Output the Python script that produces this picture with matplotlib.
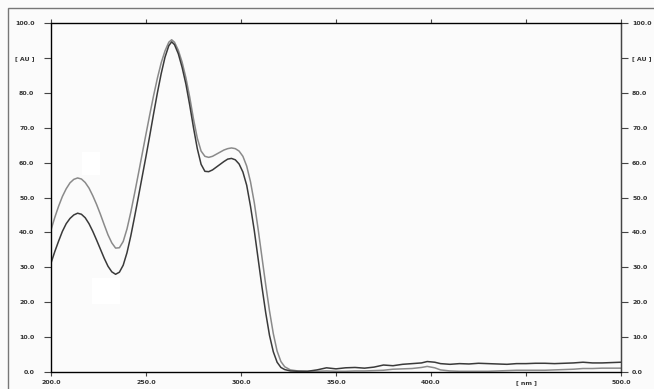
import matplotlib.pyplot as plt
from matplotlib.patches import Rectangle

# Wellenlaengen [nm] und Absorption [AU] der beiden Spektren
wavelength = [200, 202, 204, 206, 208, 210, 212, 214, 216, 218, 220, 222, 224, 226, 228,
              230, 232, 234, 236, 238, 240, 242, 244, 246, 248, 250, 252, 254, 256, 258,
              260, 262, 263.5, 265, 267, 269, 271, 273, 275, 277, 279, 281, 283, 285, 287,
              289, 291, 293, 295, 297, 299, 301, 303, 305, 307, 309, 311, 313, 315, 317,
              319, 321, 323, 326, 330, 335, 340, 345, 350, 355, 360, 365, 370, 375, 380,
              385, 390, 395, 398, 402, 405, 410, 415, 420, 425, 430, 435, 440, 445, 450,
              455, 460, 465, 470, 475, 480, 485, 490, 495, 500]

dark_au = [31.2, 34.5, 37.5, 40.3, 42.5, 44.0, 45.0, 45.5, 45.2, 44.2, 42.5, 40.3, 37.8, 35.2, 32.6,
           30.3, 28.7, 28.0, 28.6, 30.6, 34.2, 39.0, 44.5, 50.2, 56.0, 61.8, 67.8, 74.0, 80.0, 85.5,
           90.2, 93.5, 94.6, 93.8, 91.2, 87.3, 82.5, 76.5, 70.0, 64.0, 59.5, 57.5, 57.4, 57.9, 58.7,
           59.5, 60.3, 61.0, 61.2, 60.8, 59.6, 57.3, 53.5, 47.5, 40.5, 32.5, 24.5, 17.0, 10.5, 5.8,
           2.8, 1.3, 0.7, 0.3, 0.2, 0.2, 0.6, 1.2, 0.9, 1.2, 1.3, 1.1, 1.4, 2.0, 1.8,
           2.2, 2.4, 2.6, 3.0, 2.8, 2.4, 2.2, 2.4, 2.3, 2.5, 2.4, 2.3, 2.2, 2.4, 2.4,
           2.5, 2.5, 2.4, 2.5, 2.6, 2.8, 2.6, 2.6, 2.7, 2.8]

light_au = [40.7, 44.3, 47.5, 50.3, 52.5, 54.2, 55.2, 55.6, 55.3, 54.3, 52.7, 50.5, 48.0, 45.2, 42.2,
            39.3, 37.0, 35.5, 35.6, 37.4, 41.0, 45.8, 51.2, 56.8, 62.5, 68.2, 73.8, 79.2, 84.2, 88.6,
            92.0, 94.5, 95.2, 94.5, 92.2, 88.8, 84.3, 78.8, 72.5, 67.0, 63.3, 61.8, 61.5, 61.8, 62.4,
            63.0, 63.6, 64.0, 64.2, 64.0, 63.3, 61.8, 59.0, 54.5, 48.5, 41.0, 33.0, 25.0, 17.5, 11.0,
            6.0, 3.0, 1.5, 0.6, 0.3, 0.2, 0.2, 0.3, 0.2, 0.2, 0.3, 0.3, 0.4, 0.5, 0.8,
            0.9, 1.0, 1.3, 1.6, 1.2, 0.6, 0.3, 0.2, 0.2, 0.2, 0.2, 0.3, 0.4, 0.5, 0.5,
            0.5, 0.5, 0.6, 0.7, 0.8, 1.0, 1.0, 1.1, 1.1, 1.1]

x_ticks = [200, 250, 300, 350, 400, 450, 500]
x_labels = ['200.0', '250.0', '300.0', '350.0', '400.0', '[ nm ]', '500.0']
y_ticks = [0, 10, 20, 30, 40, 50, 60, 70, 80, 90, 100]
y_labels = ['0.0', '10.0', '20.0', '30.0', '40.0', '50.0', '60.0', '70.0', '80.0', '[ AU ]', '100.0']

# weisse Flecken im Original (x0, y0, Breite, Hoehe in Datenkoordinaten)
white_boxes = [(216.5, 56.5, 9.5, 6.5), (221.5, 19.5, 15, 7.5)]

fig = plt.figure(figsize=(6.54, 3.89), dpi=100)
fig.patch.set_facecolor('#fbfbfb')

# Aeusserer Rahmen
fig.add_artist(Rectangle((8 / 654, -0.1), 1.2, 1 - 8 / 389 + 0.1, transform=fig.transFigure,
                         fill=False, edgecolor='#777777', linewidth=1.0))

ax = fig.add_axes([51 / 654, 1 - 372 / 389, 570 / 654, 349 / 389])
ax.set_facecolor('#fbfbfb')

for x0, y0, w, h in white_boxes:
    ax.add_patch(Rectangle((x0, y0), w, h, facecolor='white', edgecolor='none', zorder=1))

ax.plot(wavelength, light_au, color='#8a8a8a', linewidth=1.1, zorder=2)
ax.plot(wavelength, dark_au, color='#3a3a3a', linewidth=1.1, zorder=3)

ax.set_xlim(200, 500)
ax.set_ylim(0, 100)

for side in ['left', 'right', 'top', 'bottom']:
    ax.spines[side].set_color('#444444')
    ax.spines[side].set_linewidth(1.0)

ax.set_xticks(x_ticks)
ax.set_xticklabels(x_labels)
ax.set_yticks(y_ticks)
ax.set_yticklabels(y_labels)

ax.tick_params(axis='x', which='both', direction='out', length=3, width=0.8, color='#444444',
               top=True, labeltop=False, labelsize=4.5, labelcolor='#333333', pad=2.5)
ax.tick_params(axis='y', which='both', direction='out', length=5, width=0.8, color='#444444',
               labelsize=4.5, labelcolor='#333333', pad=7)

# rechte Achse mit gleicher Skala, Beschriftung naeher an der Achse
ax_r = ax.twinx()
ax_r.set_ylim(ax.get_ylim())
ax_r.set_yticks(y_ticks)
ax_r.set_yticklabels(y_labels)
ax_r.spines['right'].set_color('#444444')
ax_r.tick_params(axis='y', direction='out', length=5, width=0.8, color='#444444',
                 labelsize=4.5, labelcolor='#333333', pad=3)

for lbl in ax.get_xticklabels() + ax.get_yticklabels() + ax_r.get_yticklabels():
    lbl.set_fontweight('bold')

fig.savefig('out.png', dpi=100, facecolor=fig.get_facecolor())
